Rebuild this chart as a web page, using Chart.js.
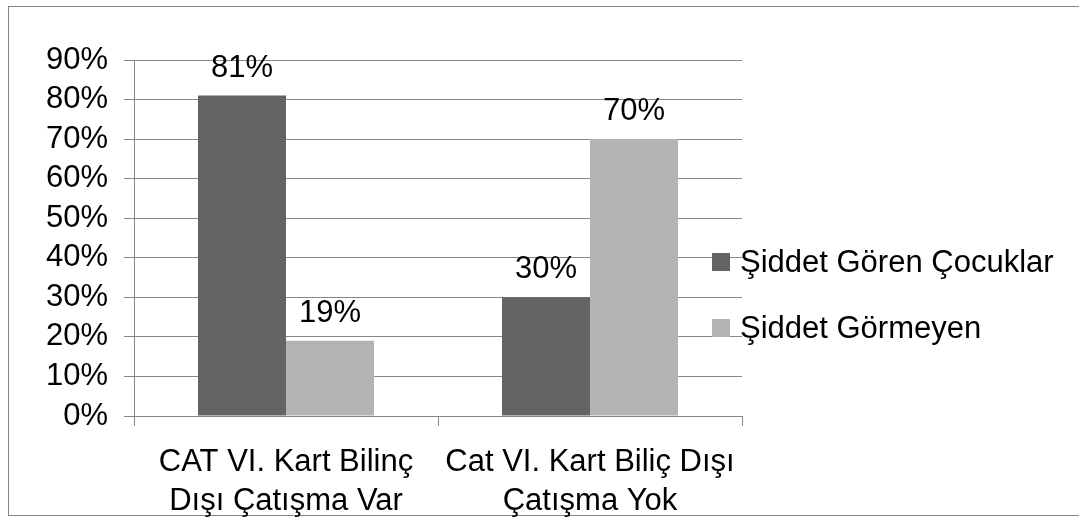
<!DOCTYPE html>
<html>
<head>
<meta charset="utf-8">
<script src="https://cdn.jsdelivr.net/npm/chart.js@4/dist/chart.umd.min.js"></script>
<style>
  html, body { margin: 0; padding: 0; background: #fff; }
  #wrap { position: relative; width: 1079px; height: 521px; overflow: hidden; }
  #frame { position: absolute; left: 8px; top: 6px; width: 1100px; height: 510px;
           border: 1px solid #868686; box-sizing: border-box; }
  canvas { position: absolute; left: 0; top: 0; }
</style>
</head>
<body>
<div id="wrap">
  <div id="frame"></div>
  <canvas id="chart" width="1079" height="521"></canvas>
</div>
<script>
// Categories (two-line axis labels)
const categories = [
  ['CAT VI. Kart Bilinç', 'Dışı Çatışma Var'],
  ['Cat VI. Kart Biliç Dışı', 'Çatışma Yok']
];
// Series names
const seriesNames = ['Şiddet Gören Çocuklar', 'Şiddet Görmeyen'];
// Percent values per series
const violenceExposed = [81, 30];
const notExposed = [19, 70];
// Y-axis range / step (percent)
const yMin = 0, yMax = 90, yStep = 10;

const FONT = '"Liberation Sans", Arial, sans-serif';
const GRID = '#868686';
const COLORS = ['#646464', '#b3b3b3'];

// Value labels above each bar
const valueLabels = {
  id: 'valueLabels',
  afterDatasetsDraw(chart) {
    const ctx = chart.ctx;
    ctx.save();
    ctx.font = '31px ' + FONT;
    ctx.fillStyle = '#000';
    ctx.textAlign = 'center';
    ctx.textBaseline = 'alphabetic';
    chart.data.datasets.forEach((ds, i) => {
      chart.getDatasetMeta(i).data.forEach((bar, j) => {
        ctx.fillText(ds.data[j] + '%', bar.x, bar.y - 19);
      });
    });
    ctx.restore();
  }
};

// Legend on the right, drawn from the dataset labels and colours
const sideLegend = {
  id: 'sideLegend',
  afterDraw(chart, args, opts) {
    const ctx = chart.ctx;
    ctx.save();
    ctx.font = '31px ' + FONT;
    ctx.textAlign = 'left';
    ctx.textBaseline = 'middle';
    chart.data.datasets.forEach((ds, i) => {
      const cy = opts.y + i * opts.gap;
      ctx.fillStyle = ds.backgroundColor;
      ctx.fillRect(opts.x, cy - opts.box / 2, opts.box, opts.box);
      ctx.fillStyle = '#000';
      ctx.fillText(ds.label, opts.x + opts.box + 10, cy + 1);
    });
    ctx.restore();
  }
};

new Chart(document.getElementById('chart'), {
  type: 'bar',
  data: {
    labels: categories,
    datasets: [
      { label: seriesNames[0], data: violenceExposed, backgroundColor: COLORS[0] },
      { label: seriesNames[1], data: notExposed, backgroundColor: COLORS[1] }
    ]
  },
  options: {
    responsive: false,
    animation: false,
    devicePixelRatio: 1,
    layout: { padding: { left: 0, top: 60, right: 337, bottom: 0 } },
    datasets: { bar: { categoryPercentage: 0.579, barPercentage: 1.0 } },
    plugins: {
      legend: { display: false },
      tooltip: { enabled: false },
      sideLegend: { x: 712, y: 262, gap: 66, box: 18 }
    },
    scales: {
      x: {
        grid: { drawOnChartArea: false, drawTicks: true, tickLength: 10, color: GRID, offset: true },
        border: { color: GRID, width: 1 },
        ticks: { color: '#000', font: { family: FONT, size: 31, lineHeight: 1.26 }, padding: 17, maxRotation: 0, autoSkip: false },
        afterFit(scale) { scale.height = 105; }
      },
      y: {
        min: yMin, max: yMax,
        grid: { color: GRID, tickLength: 10, lineWidth: 1 },
        border: { color: GRID, width: 1 },
        ticks: {
          stepSize: yStep, color: '#000', padding: 16, autoSkip: false,
          font: { family: FONT, size: 31 },
          callback: v => v + '%'
        },
        afterFit(scale) { scale.width = 134; }
      }
    }
  },
  plugins: [valueLabels, sideLegend]
});
</script>
</body>
</html>
